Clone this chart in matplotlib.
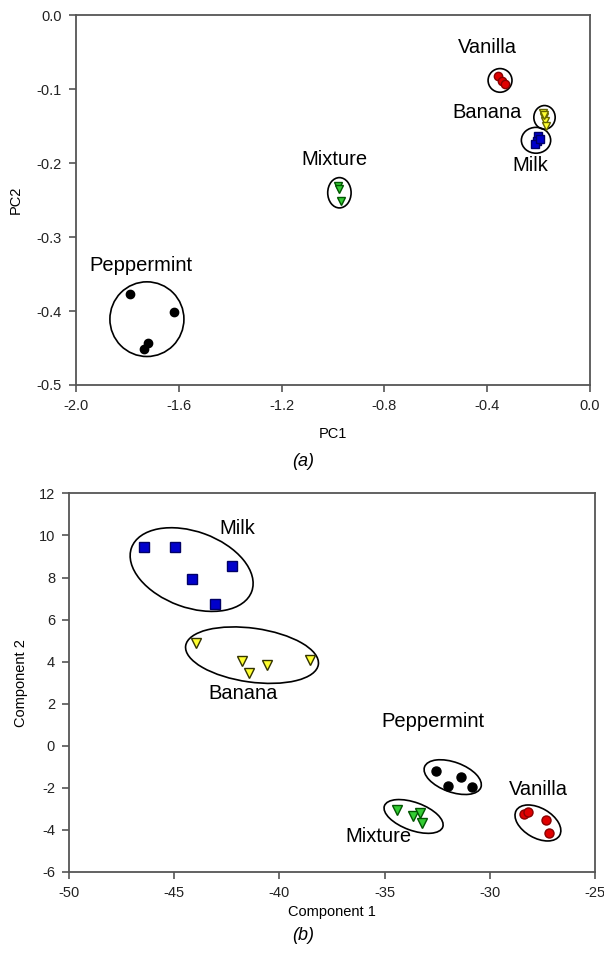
import numpy as np
import matplotlib
matplotlib.use("Agg")
import matplotlib.pyplot as plt
from matplotlib.patches import Ellipse
from matplotlib.ticker import FuncFormatter

plt.rcParams['font.family'] = ['Liberation Sans', 'DejaVu Sans']
plt.rcParams['axes.unicode_minus'] = False

# ---- (a) PCA scores ----
pc_pep_x = [-1.790, -1.619, -1.720, -1.735]
pc_pep_y = [-0.377, -0.401, -0.443, -0.451]
pc_van_x = [-0.358, -0.342, -0.331]
pc_van_y = [-0.082, -0.089, -0.093]
pc_ban_x = [-0.183, -0.179, -0.175, -0.171, -0.177]
pc_ban_y = [-0.132, -0.138, -0.143, -0.149, -0.135]
pc_milk_x = [-0.202, -0.206, -0.214, -0.195]
pc_milk_y = [-0.1635, -0.170, -0.174, -0.167]
pc_mix_x = [-0.981, -0.975, -0.969]
pc_mix_y = [-0.231, -0.235, -0.251]

# ---- (b) component scores ----
c_milk_x = [-46.42, -44.96, -44.17, -42.27, -43.06]
c_milk_y = [9.45, 9.45, 7.95, 8.53, 6.72]
c_ban_x = [-43.98, -41.76, -40.60, -41.43, -38.55]
c_ban_y = [4.89, 4.02, 3.83, 3.44, 4.07]
c_pep_x = [-32.57, -31.37, -32.00, -30.83]
c_pep_y = [-1.19, -1.50, -1.91, -1.97]
c_mix_x = [-34.42, -33.63, -33.32, -33.21]
c_mix_y = [-3.05, -3.34, -3.21, -3.65]
c_van_x = [-28.36, -28.17, -27.33, -27.17]
c_van_y = [-3.24, -3.13, -3.53, -4.16]

RED = '#e00000'
YEL = '#ffff30'
BLUE = '#0000cc'
GREEN = '#33cc33'


def one_dec(v, pos):
    if abs(v) < 1e-9:
        v = 0.0
    return '%.1f' % v


def style_axes(ax):
    for s in ax.spines.values():
        s.set_color('#555555')
        s.set_linewidth(1.3)
    ax.tick_params(direction='out', length=5, width=1.2, color='#555555',
                   labelsize=10.5, pad=5, labelcolor='#222222')


def add_ell(ax, x, y, w, h, ang=0):
    ax.add_patch(Ellipse((x, y), w, h, angle=ang, fill=False,
                         edgecolor='black', lw=1.2, zorder=2))


fig = plt.figure(figsize=(6.04, 9.6), dpi=100)

# top panel
ax1 = fig.add_axes([0.1258, 0.599, 0.851, 0.385])
ax1.plot(pc_pep_x, pc_pep_y, 'o', color='black', ms=6, zorder=3)
ax1.plot(pc_van_x, pc_van_y, 'o', mfc=RED, mec='#880000', ms=6, zorder=3)
ax1.plot(pc_ban_x, pc_ban_y, 'v', mfc=YEL, mec='#666600', ms=6, zorder=3)
ax1.plot(pc_milk_x, pc_milk_y, 's', mfc=BLUE, mec='#000066', ms=6, zorder=3)
ax1.plot(pc_mix_x, pc_mix_y, 'v', mfc=GREEN, mec='#005500', ms=6, zorder=3)
add_ell(ax1, -1.724, -0.411, 0.288, 0.101)
add_ell(ax1, -0.350, -0.088, 0.093, 0.032)
add_ell(ax1, -0.177, -0.138, 0.083, 0.032)
add_ell(ax1, -0.210, -0.169, 0.114, 0.035)
add_ell(ax1, -0.975, -0.240, 0.091, 0.041)
ax1.text(-1.747, -0.338, 'Peppermint', fontsize=14.5, ha='center', va='center')
ax1.text(-0.401, -0.043, 'Vanilla', fontsize=14.5, ha='center', va='center')
ax1.text(-0.401, -0.131, 'Banana', fontsize=14.5, ha='center', va='center')
ax1.text(-0.233, -0.203, 'Milk', fontsize=14.5, ha='center', va='center')
ax1.text(-0.996, -0.195, 'Mixture', fontsize=14.5, ha='center', va='center')
ax1.set_xlim(-2.0, 0.0)
ax1.set_ylim(-0.5, 0.0)
ax1.set_xticks(np.arange(-2.0, 0.01, 0.4))
ax1.set_yticks(np.arange(-0.5, 0.01, 0.1))
ax1.xaxis.set_major_formatter(FuncFormatter(one_dec))
ax1.yaxis.set_major_formatter(FuncFormatter(one_dec))
style_axes(ax1)
ax1.set_xlabel('PC1', fontsize=10.5, labelpad=10)
ax1.set_ylabel('PC2', fontsize=10.5, labelpad=10)
fig.text(0.502, 1 - 462 / 960, '(a)', fontsize=13, style='italic',
         ha='center', va='center')

# bottom panel
ax2 = fig.add_axes([0.1142, 0.0917, 0.8708, 0.3943])
ax2.plot(c_milk_x, c_milk_y, 's', mfc=BLUE, mec='#000066', ms=6.5, zorder=3)
ax2.plot(c_ban_x, c_ban_y, 'v', mfc=YEL, mec='#333300', ms=7, zorder=3)
ax2.plot(c_pep_x, c_pep_y, 'o', color='black', ms=6.5, zorder=3)
ax2.plot(c_mix_x, c_mix_y, 'v', mfc=GREEN, mec='#005500', ms=7, zorder=3)
ax2.plot(c_van_x, c_van_y, 'o', mfc=RED, mec='#880000', ms=6.5, zorder=3)
add_ell(ax2, -44.17, 8.38, 6.08, 3.61, -20)
add_ell(ax2, -41.30, 4.31, 6.37, 2.56, -8)
add_ell(ax2, -31.76, -1.49, 2.85, 1.42, -20)
add_ell(ax2, -33.62, -3.36, 2.95, 1.33, -20)
add_ell(ax2, -27.71, -3.67, 2.38, 1.42, -30)
ax2.text(-42.0, 10.35, 'Milk', fontsize=14.5, ha='center', va='center')
ax2.text(-41.73, 2.50, 'Banana', fontsize=14.5, ha='center', va='center')
ax2.text(-32.69, 1.14, 'Peppermint', fontsize=14.5, ha='center', va='center')
ax2.text(-27.69, -2.10, 'Vanilla', fontsize=14.5, ha='center', va='center')
ax2.text(-35.27, -4.29, 'Mixture', fontsize=14.5, ha='center', va='center')
ax2.set_xlim(-50, -25)
ax2.set_ylim(-6, 12)
ax2.set_xticks(np.arange(-50, -24, 5))
ax2.set_yticks(np.arange(-6, 13, 2))
style_axes(ax2)
ax2.set_xlabel('Component 1', fontsize=10.5, labelpad=4)
ax2.set_ylabel('Component 2', fontsize=10.5, labelpad=8)
fig.text(0.502, 1 - 935 / 960, '(b)', fontsize=13, style='italic',
         ha='center', va='center')

fig.savefig('out.png', dpi=100)
